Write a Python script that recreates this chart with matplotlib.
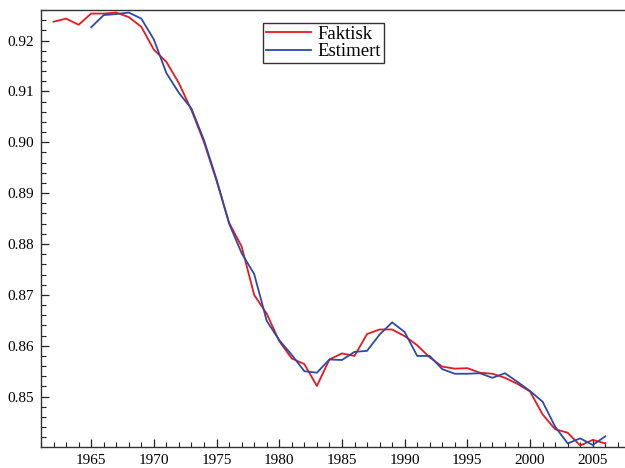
import matplotlib
matplotlib.use("Agg")
import matplotlib.pyplot as plt
from matplotlib.ticker import MultipleLocator, FormatStrFormatter

plt.rcParams['font.family'] = ['Liberation Serif', 'DejaVu Serif']

# Faktisk (actual), 1962-2006
years_f = list(range(1962, 2007))
faktisk = [0.9237, 0.9243, 0.9231, 0.9253, 0.9253, 0.9255, 0.9246, 0.9227,
           0.9182, 0.9158, 0.9116, 0.9063, 0.9000, 0.8924, 0.8842, 0.8795,
           0.8700, 0.8663, 0.8609, 0.8575, 0.8564, 0.8521, 0.8573, 0.8585,
           0.8580, 0.8623, 0.8632, 0.8632, 0.8619, 0.8601, 0.8577, 0.8559,
           0.8555, 0.8556, 0.8547, 0.8545, 0.8537, 0.8525, 0.8510, 0.8465,
           0.8436, 0.8429, 0.8404, 0.8415, 0.8408]

# Estimert (estimated), 1965-2006
years_e = list(range(1965, 2007))
estimert = [0.9226, 0.9250, 0.9252, 0.9255, 0.9243, 0.9202, 0.9136, 0.9097,
            0.9066, 0.9004, 0.8927, 0.8840, 0.8782, 0.8741, 0.8649, 0.8611,
            0.8582, 0.8550, 0.8547, 0.8573, 0.8572, 0.8588, 0.8590, 0.8622,
            0.8646, 0.8627, 0.8580, 0.8580, 0.8554, 0.8545, 0.8545, 0.8546,
            0.8537, 0.8546, 0.8529, 0.8511, 0.8490, 0.8441, 0.8408, 0.8418,
            0.8405, 0.8422]

fig = plt.figure(figsize=(6.25, 4.68), dpi=100)
ax = fig.add_axes([41 / 625, 21 / 468, 585 / 625, 437 / 468])

ax.plot(years_f, faktisk, color='#e8181e', lw=1.3, label='Faktisk')
ax.plot(years_e, estimert, color='#2c4aa6', lw=1.3, label='Estimert')

ax.set_xlim(1961.0, 2007.65)
ax.set_ylim(0.8401, 0.9260)

ax.xaxis.set_major_locator(MultipleLocator(5))
ax.xaxis.set_minor_locator(MultipleLocator(1))
ax.yaxis.set_major_locator(MultipleLocator(0.01))
ax.yaxis.set_minor_locator(MultipleLocator(0.002))
ax.yaxis.set_major_formatter(FormatStrFormatter('%.2f'))

ax.tick_params(which='both', direction='in', top=False, right=False,
               labelsize=11, colors='#222222', labelcolor='black')
ax.tick_params(which='major', length=6, width=0.9, pad=5)
ax.tick_params(which='minor', length=3.5, width=0.8)

for side in ['left', 'bottom', 'top']:
    ax.spines[side].set_color('#333333')
    ax.spines[side].set_linewidth(1.0)
ax.spines['right'].set_visible(False)

leg = ax.legend(loc='upper left', bbox_to_anchor=(263 / 625, 1 - 23 / 468),
                bbox_transform=fig.transFigure, fontsize=13.5, fancybox=False,
                framealpha=1, edgecolor='#333333', borderpad=0.15,
                handlelength=2.4, handletextpad=0.35, labelspacing=0.0,
                borderaxespad=0)
leg.get_frame().set_linewidth(1.0)

fig.savefig('out.png', dpi=100)
